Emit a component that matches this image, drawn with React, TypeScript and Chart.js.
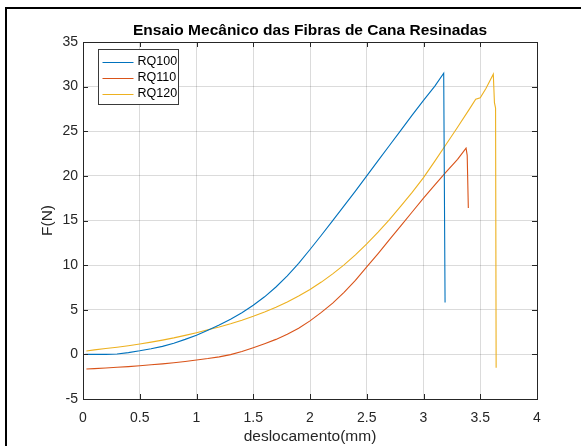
import React, { useEffect, useRef } from "react";
import { Chart, registerables } from "chart.js";

Chart.register(...registerables);

const chartTitle = "Ensaio Mecânico das Fibras de Cana Resinadas";
const xLabel = "deslocamento(mm)";
const yLabel = "F(N)";
const seriesNames = ["RQ100", "RQ110", "RQ120"];
const seriesColors = ["#0072BD", "#D95319", "#EDB120"];

const rq100X = [0.02, 0.1, 0.2, 0.3, 0.4, 0.5, 0.6, 0.7, 0.8, 0.9, 1.0, 1.1, 1.2, 1.3, 1.4, 1.5, 1.6, 1.7, 1.8, 1.9, 2.0, 2.1, 2.2, 2.3, 2.4, 2.5, 2.6, 2.7, 2.8, 2.9, 3.0, 3.1, 3.178, 3.19];
const rq100Y = [0, 0, 0, 0.05, 0.2, 0.4, 0.63, 0.9, 1.25, 1.68, 2.15, 2.7, 3.28, 3.93, 4.66, 5.5, 6.45, 7.55, 8.8, 10.2, 11.75, 13.35, 14.98, 16.64, 18.3, 20.0, 21.7, 23.4, 25.1, 26.8, 28.45, 30.05, 31.5, 5.8];

const rq110X = [0.03, 0.1, 0.2, 0.3, 0.4, 0.5, 0.6, 0.7, 0.8, 0.9, 1.0, 1.1, 1.2, 1.3, 1.4, 1.5, 1.6, 1.7, 1.8, 1.9, 2.0, 2.1, 2.2, 2.3, 2.4, 2.5, 2.6, 2.7, 2.8, 2.9, 3.0, 3.1, 3.2, 3.3, 3.375, 3.385, 3.395];
const rq110Y = [-1.64, -1.6, -1.52, -1.45, -1.37, -1.27, -1.17, -1.06, -0.93, -0.79, -0.63, -0.47, -0.28, -0.03, 0.32, 0.75, 1.2, 1.68, 2.25, 2.92, 3.75, 4.7, 5.75, 6.95, 8.3, 9.8, 11.3, 12.85, 14.4, 15.95, 17.5, 19.0, 20.45, 21.85, 23.1, 22.3, 16.4];

const rq120X = [0.03, 0.1, 0.2, 0.3, 0.4, 0.5, 0.6, 0.7, 0.8, 0.9, 1.0, 1.1, 1.2, 1.3, 1.4, 1.5, 1.6, 1.7, 1.8, 1.9, 2.0, 2.1, 2.2, 2.3, 2.4, 2.5, 2.6, 2.7, 2.8, 2.9, 3.0, 3.1, 3.2, 3.3, 3.4, 3.46, 3.5, 3.55, 3.615, 3.625, 3.635, 3.64];
const rq120Y = [0.38, 0.5, 0.65, 0.8, 0.97, 1.16, 1.37, 1.6, 1.85, 2.13, 2.43, 2.75, 3.07, 3.43, 3.83, 4.27, 4.75, 5.28, 5.87, 6.53, 7.27, 8.1, 9.02, 10.03, 11.15, 12.38, 13.7, 15.1, 16.6, 18.15, 19.8, 21.65, 23.55, 25.45, 27.4, 28.6, 28.75, 29.8, 31.4, 28.2, 27.6, -1.5];

const xMin = 0, xMax = 4, xStep = 0.5;
const yMin = -5, yMax = 35, yStep = 5;

const FONT = "'Liberation Sans', Arial, Helvetica, sans-serif";
const AXIS_COLOR = "#262626";

const toPoints = (xs: number[], ys: number[]) => xs.map((x, i) => ({ x, y: ys[i] }));
const fmt = (v: any) => String(Number(Number(v).toFixed(2)));

const framePlugin = {
  id: "matlabFrame",
  afterDraw(chart: any) {
    const { ctx, chartArea: ca, scales } = chart;
    const xs = scales.x, ys = scales.y;
    ctx.save();
    ctx.strokeStyle = AXIS_COLOR;
    ctx.lineWidth = 1;
    ctx.strokeRect(Math.round(ca.left) + 0.5, Math.round(ca.top) + 0.5, Math.round(ca.right - ca.left), Math.round(ca.bottom - ca.top));
    const tl = 5;
    ctx.beginPath();
    for (let v = xMin; v <= xMax + 1e-9; v += xStep) {
      const px = Math.round(xs.getPixelForValue(v)) + 0.5;
      ctx.moveTo(px, ca.bottom);
      ctx.lineTo(px, ca.bottom - tl);
      ctx.moveTo(px, ca.top);
      ctx.lineTo(px, ca.top + tl);
    }
    for (let v = yMin; v <= yMax + 1e-9; v += yStep) {
      const py = Math.round(ys.getPixelForValue(v)) + 0.5;
      ctx.moveTo(ca.left, py);
      ctx.lineTo(ca.left + tl, py);
      ctx.moveTo(ca.right, py);
      ctx.lineTo(ca.right - tl, py);
    }
    ctx.stroke();

    // legend
    const lx = Math.round(ca.left + 15) + 0.5;
    const ly = Math.round(ca.top + 7) + 0.5;
    const lw = 80, lh = 55;
    ctx.fillStyle = "#ffffff";
    ctx.fillRect(lx, ly, lw, lh);
    ctx.strokeStyle = "#3a3a3a";
    ctx.strokeRect(lx, ly, lw, lh);
    ctx.font = `12.5px ${FONT}`;
    ctx.textBaseline = "middle";
    ctx.textAlign = "left";
    chart.data.datasets.forEach((ds: any, i: number) => {
      const cy = ly + 12 + i * 16.2;
      ctx.strokeStyle = ds.borderColor;
      ctx.lineWidth = 1;
      ctx.beginPath();
      ctx.moveTo(lx + 4, Math.round(cy) + 0.5);
      ctx.lineTo(lx + 35, Math.round(cy) + 0.5);
      ctx.stroke();
      ctx.fillStyle = "#000000";
      ctx.fillText(ds.label, lx + 39, cy);
    });
    ctx.restore();
  },
};

export default function App() {
  const canvasRef = useRef<HTMLCanvasElement | null>(null);

  useEffect(() => {
    const canvas = canvasRef.current;
    if (!canvas) return;
    const xsList = [rq100X, rq110X, rq120X];
    const ysList = [rq100Y, rq110Y, rq120Y];
    const chart = new Chart(canvas, {
      type: "line",
      data: {
        datasets: seriesNames.map((name, i) => ({
          label: name,
          data: toPoints(xsList[i], ysList[i]),
          borderColor: seriesColors[i],
          backgroundColor: seriesColors[i],
          borderWidth: 1.1,
          pointRadius: 0,
          tension: 0,
          fill: false,
        })),
      },
      options: {
        responsive: false,
        animation: false,
        devicePixelRatio: 1,
        layout: { padding: { top: 0, left: 0, right: 44, bottom: 0 } },
        plugins: {
          legend: { display: false },
          tooltip: { enabled: false },
          title: {
            display: true,
            fullSize: false,
            align: "center",
            text: chartTitle,
            color: "#000000",
            font: { family: FONT, size: 15.5, weight: "bold" },
            padding: { top: 21, bottom: 2.4 },
          },
        },
        scales: {
          x: {
            type: "linear",
            min: xMin,
            max: xMax,
            afterFit: (s: any) => { s.height = 47; },
            ticks: {
              stepSize: xStep,
              color: AXIS_COLOR,
              font: { family: FONT, size: 14 },
              padding: 11,
              maxRotation: 0,
              callback: (v: any) => fmt(v),
            },
            grid: { color: "rgba(0,0,0,0.14)", drawTicks: false, lineWidth: 1 },
            border: { display: true, color: AXIS_COLOR },
            title: {
              display: true,
              text: xLabel,
              color: AXIS_COLOR,
              font: { family: FONT, size: 15.5 },
              padding: { top: 0, bottom: 0 },
            },
          },
          y: {
            type: "linear",
            min: yMin,
            max: yMax,
            afterFit: (s: any) => { s.width = 83; },
            ticks: {
              stepSize: yStep,
              color: AXIS_COLOR,
              font: { family: FONT, size: 14 },
              padding: 5,
              callback: (v: any) => fmt(v),
            },
            grid: { color: "rgba(0,0,0,0.14)", drawTicks: false, lineWidth: 1 },
            border: { display: true, color: AXIS_COLOR },
            title: {
              display: true,
              text: yLabel,
              color: AXIS_COLOR,
              font: { family: FONT, size: 15.5 },
              padding: { top: 38.7, bottom: 0 },
            },
          },
        },
      },
      plugins: [framePlugin],
    } as any);
    return () => chart.destroy();
  }, []);

  return (
    <div style={{ position: "fixed", left: 0, top: 0, width: 581, height: 446, background: "#ffffff", overflow: "hidden" }}>
      <div style={{ position: "absolute", left: 5, top: 7, right: 0, bottom: 0, borderLeft: "2px solid #000", borderTop: "2px solid #000" }} />
      <canvas ref={canvasRef} width={581} height={446} style={{ position: "absolute", left: 0, top: 0, display: "block" }} />
    </div>
  );
}
